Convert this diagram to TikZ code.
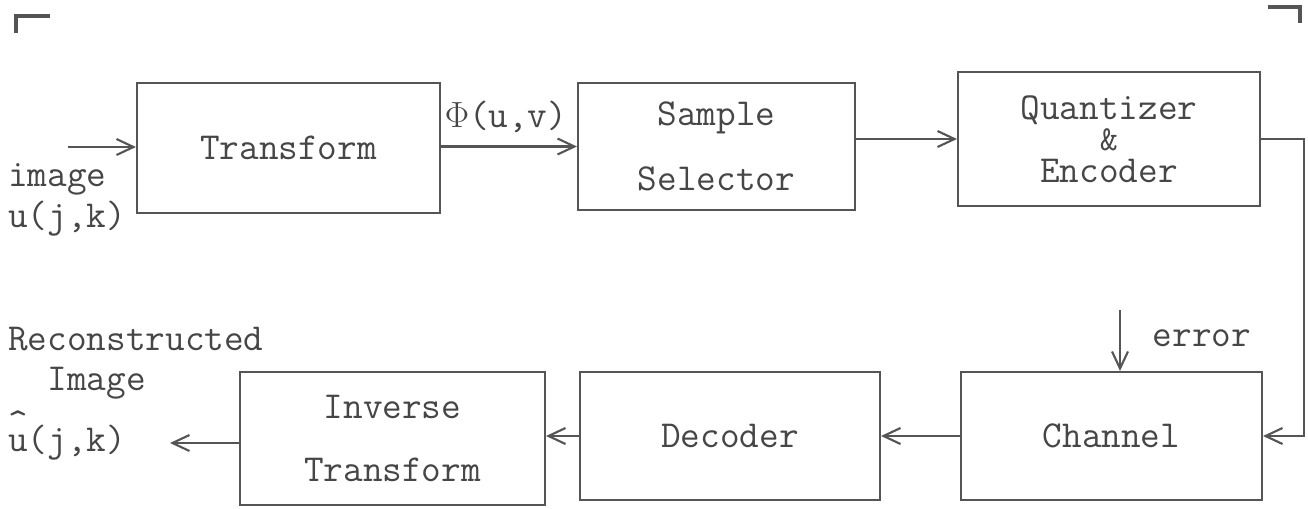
\documentclass[tikz,border=0pt]{standalone}
\usepackage{fontspec}
\usepackage{tikz}
\usetikzlibrary{arrows.meta,positioning,calc}
\definecolor{InkColor}{RGB}{85,85,85}
\definecolor{TextColor}{RGB}{70,70,70}

\begin{document}
\begin{tikzpicture}[x=0.02cm, y=-0.02cm,
    >={Straight Barb[length=3.4mm,width=3.2mm]},
    font=\ttfamily\fontsize{21.7}{23}\selectfont,
    every node/.style={text=TextColor},
    block/.style={draw=InkColor, line width=1.2pt, align=center, inner sep=0pt},
    flow/.style={->, draw=InkColor, line width=1.2pt},
    cropmark/.style={draw=InkColor, line width=2pt}]
  \useasboundingbox (0,0) rectangle (1308,508);

  % crop marks
  \draw[cropmark] (16,33) -- (16,16) -- (50,16);
  \draw[cropmark] (1268,7) -- (1300,7) -- (1300,23);

  % upper row
  \node[block, minimum width=6.06cm, minimum height=2.6cm] (transform) at (288.5,148) {Transform};
  \node[block, minimum width=5.54cm, minimum height=2.54cm] (selector) at (716.5,146.5) {Sample\\[14pt]Selector};
  \node[block, minimum width=6.04cm, minimum height=2.68cm] (quantizer) at (1109,139) {Quantizer\\[-5pt]{\fontsize{20}{23}\selectfont\&}\\[-5pt]Encoder};

  % lower row
  \node[block, minimum width=6.02cm, minimum height=2.56cm] (channel) at (1111.5,436) {Channel};
  \node[block, minimum width=6.0cm, minimum height=2.56cm] (decoder) at (730,436) {Decoder};
  \node[block, minimum width=6.1cm, minimum height=2.66cm] (inverse) at (392.5,438.5) {Inverse\\[13pt]Transform};

  % labels
  \node[anchor=west, align=left, inner sep=0pt] (input) at (8,200) {image\\u(j,k)};
  \node[inner sep=0pt] (phi) at (506,117) {$\Phi$(u,v)};
  \node[inner sep=0pt] (error) at (1202,338) {error};
  \node[anchor=west, align=left, inner sep=0pt] (recon) at (8,363) {Reconstructed\\\phantom{Re}Image};
  \node[anchor=base west, inner sep=0pt] (output) at (8,451) {\makebox[0pt][l]{\raisebox{0.42em}{\^{}}}u(j,k)};

  \coordinate (in) at (68,147);
  \coordinate (out) at (170,443);
  \coordinate (noise) at (1120,310);

  \draw[flow] (in) -- (in -| transform.west);
  \draw[flow] (transform.east |- selector) -- (selector.west);
  \draw[flow] (selector.east |- quantizer) -- (quantizer.west);
  \draw[flow] (quantizer.east) -- ++(43,0) |- (channel.east);
  \draw[flow] (noise) -- (noise |- channel.north);
  \draw[flow] (channel) -- (decoder);
  \draw[flow] (decoder.west) -- (decoder.west -| inverse.east);
  \draw[flow] (out -| inverse.west) -- (out);
\end{tikzpicture}
\end{document}
